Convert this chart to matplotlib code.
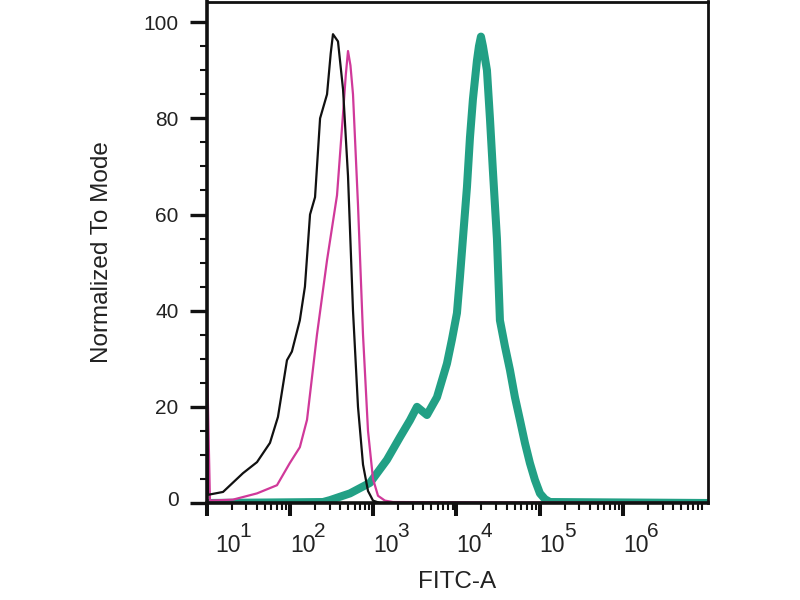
import numpy as np
import matplotlib
matplotlib.use('Agg')
import matplotlib.pyplot as plt
import matplotlib.transforms as mtransforms
from matplotlib.ticker import FixedLocator, MultipleLocator, NullFormatter

plt.rcParams['font.family'] = ['Liberation Sans', 'DejaVu Sans']

# unstained / isotype control (black)
blackX = [10, 10.4, 15.8, 27.4, 40.4, 57.8, 72.1, 92.5, 106, 132, 152, 175, 201,
          231, 280, 310, 330, 379, 436, 500, 574, 659, 757, 869, 998, 1211, 1.05e7]
blackY = [35, 1.7, 2.3, 6.2, 8.5, 12.5, 17.9, 29.7, 31.5, 38, 45, 60, 63.6,
          80, 85, 93.5, 97.5, 96, 86, 68, 40, 20, 8, 2.5, 0.5, 0, 0]

# second control (magenta)
pinkX = [10, 11.0, 20.8, 40.4, 70.2, 100, 132, 161, 212, 280, 369, 436, 470, 500,
         535, 574, 659, 757, 869, 998, 1146, 1386, 1734, 1.05e7]
pinkY = [35, 0.5, 0.7, 2, 3.7, 8.3, 11.6, 17.3, 35, 50.5, 64, 81, 89, 94,
         91, 85, 62, 35, 15, 5, 1.5, 0.5, 0.2, 0]

# stained sample (green)
greenX = [10, 250, 304, 528, 919, 1469, 2104, 2773, 3366, 4436, 5848, 7709, 8850,
          10160, 11040, 11990, 13400, 14560, 15810, 17660, 18670, 19730, 20850,
          23290, 25300, 27480, 30690, 33340, 38280, 43950, 50480, 57940, 66530,
          76380, 87700, 100800, 115800, 133000, 1.05e7]
greenY = [0, 0.2, 0.6, 2, 4.2, 9, 13.7, 17.2, 20, 18.3, 22, 29, 34,
          39.5, 47, 55, 65.7, 76, 84, 92, 95, 97, 95,
          90, 80, 69, 55, 38, 32.6, 27.7, 22, 17.3, 12.5,
          8.3, 4.8, 2, 0.8, 0.2, 0]

decades = [1, 2, 3, 4, 5, 6]
yTicks = [0, 20, 40, 60, 80, 100]

fig = plt.figure(figsize=(8, 6), dpi=100)
ax = fig.add_axes([206.5/800, 1-503/600, (708-206.5)/800, (503-1.5)/600])

ax.plot(greenX, greenY, color='#22a085', lw=5.8, solid_joinstyle='round',
        solid_capstyle='round')
ax.plot(pinkX, pinkY, color='#d0399a', lw=1.6)
ax.plot(blackX, blackY, color='#111111', lw=1.6)

ax.set_xscale('log')
ax.set_xlim(10, 1.05e7)
ax.set_ylim(0, 104.3)

ax.xaxis.set_major_locator(FixedLocator([10.0**d for d in decades]))
ax.set_xticklabels(['10'] * len(decades))
minor = [m*10.0**d for d in range(1, 8) for m in range(2, 10)]
ax.xaxis.set_minor_locator(FixedLocator(minor))
ax.xaxis.set_minor_formatter(NullFormatter())

ax.yaxis.set_major_locator(FixedLocator(yTicks))
ax.yaxis.set_minor_locator(MultipleLocator(5))

ax.tick_params(axis='both', which='major', direction='out',
               color='#111111', labelcolor='#222222')
ax.tick_params(axis='y', which='major', length=12, width=2.4, pad=8, labelsize=15)
ax.tick_params(axis='x', which='major', length=9.5, width=2.9, pad=13, labelsize=16.5)
ax.tick_params(axis='both', which='minor', direction='out', length=5,
               width=1.5, color='#111111')

# FlowJo style labels: "10" left-aligned on the tick, exponent raised after it
for i, (lab, d) in enumerate(zip(ax.get_xticklabels(), decades)):
    lab.set_horizontalalignment('left')
    dx = 6.5 if i == 0 else 0
    ax.annotate(str(d), xy=(10.0**d, 0), xycoords=ax.get_xaxis_transform(),
                xytext=(dx + 17.5, -24.5), textcoords='offset points',
                fontsize=15, color='#222222', ha='left', va='baseline')
    if i == 0:
        lab.set_transform(lab.get_transform() +
                          mtransforms.ScaledTranslation(dx/72, 0, fig.dpi_scale_trans))

# the "0" label sits a little above its tick in the original
ylab0 = ax.get_yticklabels()[0]
ylab0.set_transform(ylab0.get_transform() +
                    mtransforms.ScaledTranslation(0, 5/100, fig.dpi_scale_trans))

for side in ['left', 'bottom']:
    ax.spines[side].set_linewidth(2.6)
for side in ['top', 'right']:
    ax.spines[side].set_linewidth(2.0)
for s in ax.spines.values():
    s.set_color('#111111')

ax.set_xlabel('FITC-A', fontsize=17.5, color='#222222', labelpad=10)
ax.set_ylabel('Normalized To Mode', fontsize=17.5, color='#222222', labelpad=22)

fig.savefig('out.png', dpi=100)
